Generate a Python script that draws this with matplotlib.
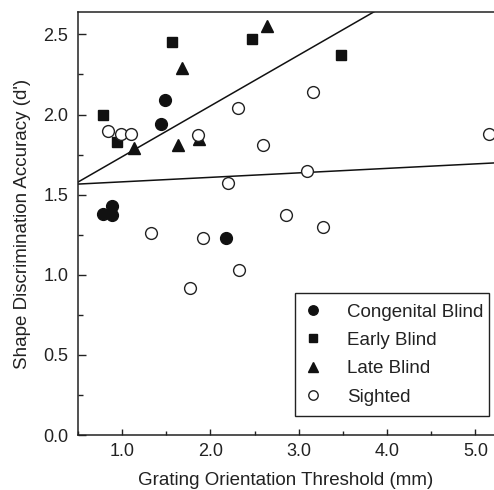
import numpy as np
import matplotlib
matplotlib.use("Agg")
import matplotlib.pyplot as plt
from matplotlib.ticker import MultipleLocator, FormatStrFormatter

plt.rcParams['font.family'] = ['Liberation Sans', 'DejaVu Sans']

# congenital blind
cong_x = [0.78, 0.89, 0.88, 1.435, 1.48, 2.18]
cong_y = [1.38, 1.43, 1.37, 1.94, 2.09, 1.23]
# early blind
early_x = [0.785, 0.94, 1.566, 2.47, 3.48]
early_y = [2.00, 1.83, 2.45, 2.47, 2.37]
# late blind
late_x = [1.13, 1.63, 1.68, 1.87, 2.64]
late_y = [1.79, 1.81, 2.29, 1.85, 2.55]
# sighted
sig_x = [0.84, 0.99, 1.10, 1.325, 1.77, 1.86, 1.91, 2.20, 2.31, 2.32,
         2.59, 2.85, 3.09, 3.16, 3.28, 5.16]
sig_y = [1.90, 1.88, 1.88, 1.26, 0.92, 1.87, 1.23, 1.575, 2.04, 1.03,
         1.81, 1.37, 1.646, 2.14, 1.30, 1.88]

# regression lines (intercept, slope)
blind_fit = (1.42, 0.317)
sighted_fit = (1.552, 0.028)

fig = plt.figure(figsize=(4.94, 4.90), dpi=100)
ax = fig.add_axes([78/494, 55/490, 416/494, 423/490])

ms = 8.5
ax.plot(cong_x, cong_y, 'o', color='#111111', ms=ms, label='Congenital Blind', zorder=3)
ax.plot(early_x, early_y, 's', color='#111111', ms=ms - 0.8, label='Early Blind', zorder=3)
ax.plot(late_x, late_y, '^', color='#111111', ms=ms, label='Late Blind', zorder=3)
ax.plot(sig_x, sig_y, 'o', mfc='white', mec='#222222', mew=1.0, ms=ms, label='Sighted', zorder=3)

xx = np.array([0.5, 5.3])
ax.plot(xx, blind_fit[0] + blind_fit[1] * xx, color='#111111', lw=1.1, zorder=2)
ax.plot(xx, sighted_fit[0] + sighted_fit[1] * xx, color='#111111', lw=1.1, zorder=2)

ax.set_xlim(0.5, 0.5 + 416/88.3)
ax.set_ylim(0, 2.64)
ax.set_xticks([1.0, 2.0, 3.0, 4.0, 5.0])
ax.xaxis.set_minor_locator(MultipleLocator(0.5))
ax.yaxis.set_major_locator(MultipleLocator(0.5))
ax.yaxis.set_minor_locator(MultipleLocator(0.25))
ax.xaxis.set_major_formatter(FormatStrFormatter('%.1f'))
ax.yaxis.set_major_formatter(FormatStrFormatter('%.1f'))

ax.tick_params(which='both', direction='in', labelsize=13, width=1.0, color='#222222',
               labelcolor='#222222')
ax.tick_params(axis='y', which='major', length=5.5, pad=7)
ax.tick_params(axis='y', which='minor', length=3.5)
ax.tick_params(axis='x', which='major', length=4.5, pad=5.5)
ax.tick_params(axis='x', which='minor', length=3.0)

ax.spines['right'].set_visible(False)
for s in ['left', 'bottom', 'top']:
    ax.spines[s].set_linewidth(1.1)
    ax.spines[s].set_color('#222222')

ax.set_xlabel('Grating Orientation Threshold (mm)', fontsize=13.5, labelpad=9, color='#222222')
ax.set_ylabel("Shape Discrimination Accuracy (d')", fontsize=13.5, labelpad=9, color='#222222')

leg = ax.legend(loc='lower left', bbox_to_anchor=(0.522, 0.045, 0.466, 0.293),
                mode='expand', borderaxespad=0, fancybox=False, framealpha=1,
                edgecolor='#222222', fontsize=13.5, markerscale=0.8,
                handletextpad=1.4, labelspacing=0.6, borderpad=0.55, handlelength=0.8)
leg.get_frame().set_linewidth(1.0)
for t in leg.get_texts():
    t.set_color('#222222')

fig.savefig('out.png', dpi=100)
